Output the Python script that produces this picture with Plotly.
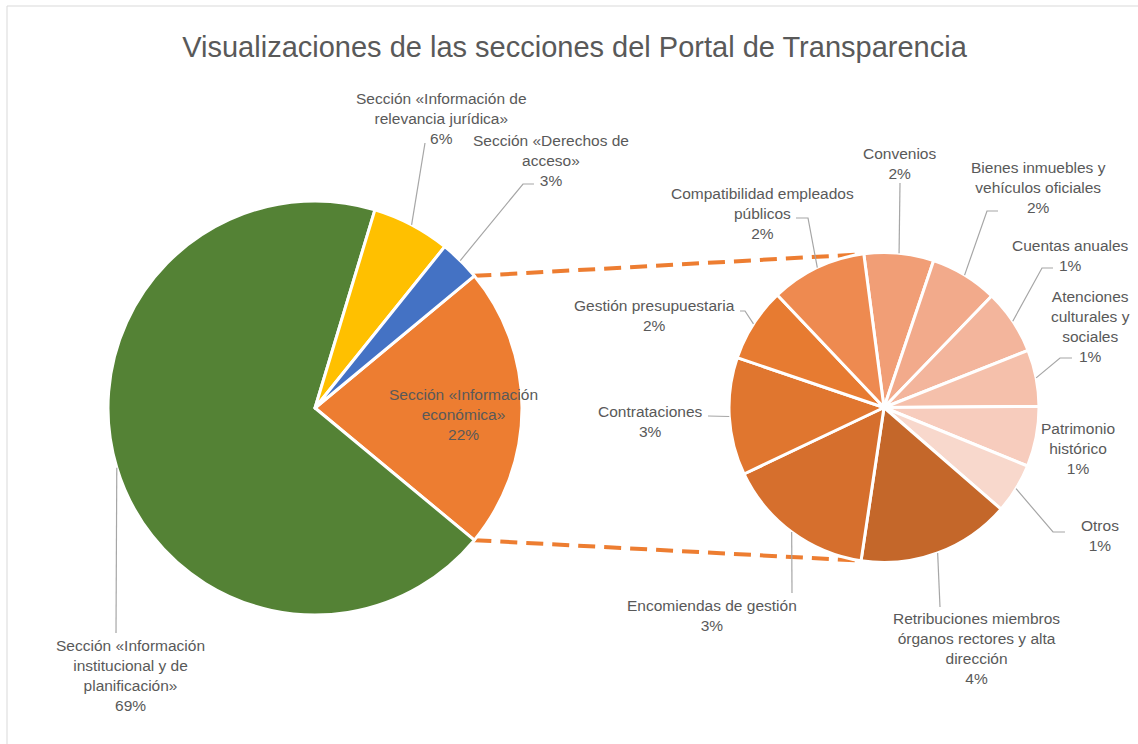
import math
import plotly.graph_objects as go

W, H = 1138, 744

# ---------------- data ----------------
main_labels = ["Sección «Información económica»",
               "Sección «Información institucional y de planificación»",
               "Sección «Información de relevancia jurídica»",
               "Sección «Derechos de acceso»"]
main_values = [None, 68.6, 6.1, 3.2]  # first (economic) = sum of the detail pie
main_colors = ["#ED7D31", "#548235", "#FFC000", "#4472C4"]

sub_labels = ["Convenios",
              "Bienes inmuebles y vehículos oficiales",
              "Cuentas anuales",
              "Atenciones culturales y sociales",
              "Patrimonio histórico",
              "Otros",
              "Retribuciones miembros órganos rectores y alta dirección",
              "Encomiendas de gestión",
              "Contrataciones",
              "Gestión presupuestaria",
              "Compatibilidad empleados públicos"]
sub_values = [1.6, 1.55, 1.49, 1.3, 1.38, 1.15, 3.52, 3.43, 2.7, 1.7, 2.2]
sub_colors = ["#F19E76", "#F2AA8B", "#F3B59C", "#F5C0AB", "#F7CCBD", "#F8D8CC",
              "#C4672A", "#D66F2D", "#E0762F", "#E77B31", "#EE8A50"]

main_values[0] = round(sum(sub_values), 2)
total = sum(main_values)

# label texts (line-broken versions)
main_text = ["Sección «Información<br>económica»",
             "Sección «Información<br>institucional y de<br>planificación»",
             "Sección «Información de<br>relevancia jurídica»",
             "Sección «Derechos de<br>acceso»"]
sub_text = ["Convenios",
            "Bienes inmuebles y<br>vehículos oficiales",
            "Cuentas anuales",
            "Atenciones<br>culturales y<br>sociales",
            "Patrimonio<br>histórico",
            "Otros",
            "Retribuciones miembros<br>órganos rectores y alta<br>dirección",
            "Encomiendas de gestión",
            "Contrataciones",
            "Gestión presupuestaria",
            "Compatibilidad empleados<br>públicos"]

# ---------------- geometry ----------------
def px(x):
    return x / W

def py(y):
    return 1 - y / H

C1, R1 = (315, 408), 207
C2, R2 = (884, 407.5), 155

rot1 = 90 - 360 * main_values[0] / total / 2
rot2 = -7.5

def slice_angles(values, rot, tot):
    out = []
    a = rot
    for v in values:
        span = 360 * v / tot
        out.append((a, a + span))
        a += span
    return out

ang1 = slice_angles(main_values, rot1, total)
ang2 = slice_angles(sub_values, rot2, sum(sub_values))

def on_circle(c, r, deg):
    t = math.radians(deg)
    return (c[0] + r * math.sin(t), c[1] - r * math.cos(t))

fig = go.Figure()
fig.add_trace(go.Pie(
    labels=main_labels, values=main_values, sort=False, direction="clockwise",
    rotation=rot1, textinfo="none", hoverinfo="label+percent",
    marker=dict(colors=main_colors, line=dict(color="white", width=3)),
    domain=dict(x=[px(C1[0] - R1), px(C1[0] + R1)], y=[py(C1[1] + R1), py(C1[1] - R1)]),
    showlegend=False))
fig.add_trace(go.Pie(
    labels=sub_labels, values=sub_values, sort=False, direction="clockwise",
    rotation=rot2, textinfo="none", hoverinfo="label+value",
    marker=dict(colors=sub_colors, line=dict(color="white", width=3)),
    domain=dict(x=[px(C2[0] - R2), px(C2[0] + R2)], y=[py(C2[1] + R2), py(C2[1] - R2)]),
    showlegend=False))

shapes = []
# chart-area border
shapes.append(dict(type="rect", xref="paper", yref="paper",
                   x0=px(7), x1=px(1150), y0=py(6), y1=py(760),
                   line=dict(color="#D9D9D9", width=1), layer="below"))

# connector lines between the pies
for a_main, a_sub in [(ang1[0][0], -9), (ang1[0][1], 189)]:
    p0 = on_circle(C1, R1, a_main)
    p1 = on_circle(C2, R2, a_sub)
    shapes.append(dict(type="line", xref="paper", yref="paper",
                       x0=px(p0[0]), y0=py(p0[1]), x1=px(p1[0]), y1=py(p1[1]),
                       line=dict(color="#ED7D31", width=4, dash="17px,9px"), layer="below"))

FONT = dict(family="Liberation Sans, Arial, sans-serif", size=15.5, color="#595959")
annotations = []

def pct(v):
    return f"{round(100 * v / total)}%"

# label placement: (text centre x, text centre y, leader points near label or None)
main_place = [
    (463, 415, None),
    (130, 675.5, [(116, 633)]),
    (442, 119, [(425, 143)]),
    (551, 160, [(523, 184), (534, 184)]),
]
sub_place = [
    (899, 163.5, [(900, 183)]),
    (1038, 187, [(987, 211), (998, 211)]),
    (1070, 255, [(1042, 268), (1053, 268)]),
    (1090, 326, [(1060, 358), (1072, 358)]),
    (1078, 448, None),
    (1100, 535.5, [(1053, 532), (1065, 532)]),
    (976, 648.5, [(940, 607)]),
    (712, 615.5, [(792, 593)]),
    (650, 421.5, [(708, 416)]),
    (654, 315.5, [(745, 311), (740, 311)]),
    (762, 213, [(808, 218), (796, 218)]),
]

def add_labels(texts, values, angs, center, radius, places):
    for t, v, (a0, a1), (tx, ty, pts) in zip(texts, values, angs, places):
        annotations.append(dict(text=f"{t}<br>{pct(v)}", x=px(tx), y=py(ty),
                                xref="paper", yref="paper", showarrow=False,
                                xanchor="center", yanchor="middle", align="center",
                                font=FONT))
        if pts:
            start = on_circle(center, radius, (a0 + a1) / 2)
            path_pts = [start] + pts
            d = "M " + " L ".join(f"{px(x):.5f},{py(y):.5f}" for x, y in path_pts)
            shapes.append(dict(type="path", xref="paper", yref="paper", path=d,
                               line=dict(color="#A6A6A6", width=1.2)))

add_labels(main_text, main_values, ang1, C1, R1, main_place)
add_labels(sub_text, sub_values, ang2, C2, R2, sub_place)

fig.update_layout(
    width=W, height=H,
    margin=dict(l=0, r=0, t=0, b=0),
    paper_bgcolor="white", plot_bgcolor="white",
    title=dict(text="Visualizaciones de las secciones del Portal de Transparencia",
               x=px(574.5), y=py(47), xanchor="center", yanchor="middle",
               font=dict(family="Liberation Sans, Arial, sans-serif", size=29, color="#595959")),
    shapes=shapes, annotations=annotations,
)

fig.write_html("out.html", config={"displayModeBar": False},
               post_script="document.body.style.margin='0';document.body.style.overflow='hidden';")
